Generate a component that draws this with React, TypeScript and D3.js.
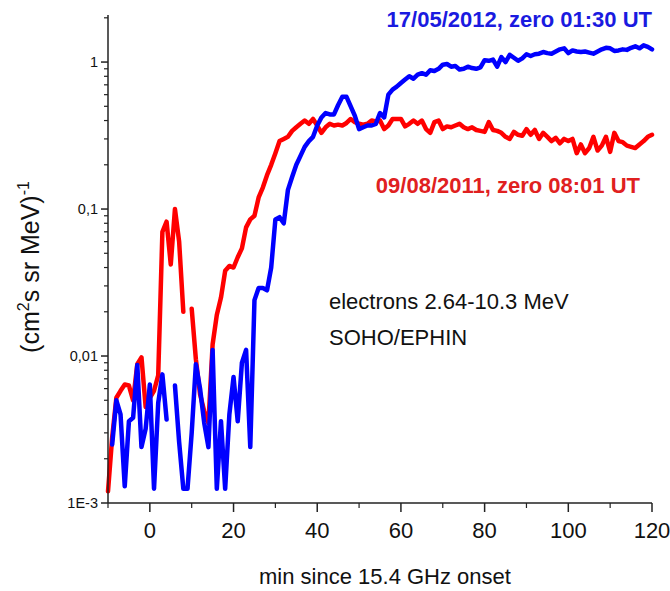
import React from 'react';
import * as d3 from 'd3';

// minutes since 15.4 GHz onset (x categories)
const minutes: number[] = d3.range(-10, 121);

// 09/08/2011 event, electrons 2.64-10.3 MeV, one value per minute from -10 to 120
const red2011: (number | null)[] = [
  0.0012, 0.0028, 0.0052, 0.0058, 0.0064, 0.0063, 0.005, 0.0088, 0.0098, 0.0045,
  0.0052, 0.0058, 0.0074, 0.07, 0.082, 0.042, 0.1, 0.06, 0.02, null,
  0.021, 0.0095, 0.0055, 0.0042, 0.0035, 0.012, 0.019, 0.025, 0.038, 0.041,
  0.04, 0.047, 0.054, 0.075, 0.085, 0.09, 0.12, 0.14, 0.17, 0.2,
  0.24, 0.29, 0.3, 0.31, 0.34, 0.36, 0.38, 0.4, 0.38, 0.41,
  0.37, 0.33, 0.36, 0.38, 0.37, 0.375, 0.37, 0.385, 0.41, 0.39,
  0.38, 0.375, 0.38, 0.4, 0.395, 0.4, 0.35, 0.37, 0.41, 0.41,
  0.41, 0.365, 0.38, 0.4, 0.38, 0.4, 0.35, 0.33, 0.39, 0.4,
  0.35, 0.365, 0.36, 0.37, 0.38, 0.36, 0.35, 0.36, 0.345, 0.34,
  0.335, 0.39, 0.345, 0.34, 0.33, 0.31, 0.3, 0.335, 0.32, 0.315,
  0.35, 0.32, 0.345, 0.3, 0.33, 0.31, 0.29, 0.305, 0.28, 0.3,
  0.29, 0.3, 0.24, 0.275, 0.24, 0.26, 0.31, 0.25, 0.27, 0.31,
  0.245, 0.33, 0.29, 0.285, 0.27, 0.265, 0.26, 0.275, 0.29, 0.31,
  0.32,
];

// 17/05/2012 event
const blue2012: (number | null)[] = [
  null, 0.0025, 0.005, 0.004, 0.0013, 0.0036, 0.0038, 0.0087, 0.0024, 0.0032,
  0.0064, 0.00125, 0.0048, 0.0075, 0.0037, null, 0.0063, 0.0026, 0.00125, 0.00125,
  0.003, 0.0088, 0.006, 0.0035, 0.0024, 0.011, 0.00125, 0.0036, 0.00125, 0.004,
  0.0072, 0.0036, 0.009, 0.011, 0.0024, 0.024, 0.029, 0.029, 0.028, 0.04,
  0.085, 0.088, 0.08, 0.135, 0.165, 0.2, 0.23, 0.265, 0.29, 0.31,
  0.37, 0.42, 0.45, 0.44, 0.44, 0.51, 0.58, 0.58, 0.5, 0.43,
  0.35, 0.36, 0.37, 0.37, 0.38, 0.45, 0.42, 0.6, 0.65, 0.68,
  0.72, 0.76, 0.8, 0.77, 0.82, 0.84, 0.82, 0.88, 0.87, 0.9,
  0.96, 0.97, 0.93, 0.94, 0.89, 0.9, 0.93, 0.91, 0.9, 0.92,
  1.03, 1.02, 1.04, 0.93, 1.08, 1.0, 1.12, 1.07, 1.02, 1.06,
  1.13, 1.1, 1.13, 1.14, 1.17, 1.15, 1.14, 1.18, 1.22, 1.24,
  1.15, 1.2, 1.18, 1.17, 1.18, 1.16, 1.14, 1.18, 1.22, 1.25,
  1.24, 1.19, 1.2, 1.22, 1.21, 1.25, 1.28, 1.24, 1.3, 1.27,
  1.22,
];

const xMajorTicks = [0, 20, 40, 60, 80, 100, 120];
const xMinorTicks = [-10, 10, 30, 50, 70, 90, 110];
const yMajorTicks = [0.001, 0.01, 0.1, 1];
const yMajorLabels = ['1E-3', '0,01', '0,1', '1'];
const yMinorMultipliers = [2, 3, 4, 5, 6, 7, 8, 9];

const legendBlue = '17/05/2012, zero 01:30 UT';
const legendRed = '09/08/2011, zero 08:01 UT';
const noteLines = ['electrons 2.64-10.3 MeV', 'SOHO/EPHIN'];
const xTitle = 'min since 15.4 GHz onset';

const FONT = "'Liberation Sans', Arial, Helvetica, sans-serif";

export default function App() {
  const W = 670;
  const H = 591;
  const x = d3.scaleLinear().domain([-10, 120]).range([108, 652]);
  const y = d3.scaleLog().domain([0.001, 2.09]).range([503, 15]);
  const yTop = y.domain()[1];

  const yMinor: number[] = [];
  yMajorTicks.forEach((base) => {
    yMinorMultipliers.forEach((k) => {
      const v = base * k;
      if (v <= yTop) yMinor.push(v);
    });
  });

  const line = d3
    .line<[number, number | null]>()
    .defined((d) => d[1] != null)
    .x((d) => x(d[0]))
    .y((d) => y(d[1] as number));

  const redPts = minutes.map((m, i) => [m, red2011[i]] as [number, number | null]);
  const bluePts = minutes.map((m, i) => [m, blue2012[i]] as [number, number | null]);

  const axisColor = '#222';
  const x0 = x.range()[0];
  const yB = y.range()[0];

  return (
    <svg
      width={W}
      height={H}
      style={{ position: 'absolute', left: 0, top: 0, background: '#fff' }}
      fontFamily={FONT}
    >
      <rect x={0} y={0} width={W} height={H} fill="#fff" />
      {/* data lines */}
      <path d={line(redPts) || ''} fill="none" stroke="#ff0000" strokeWidth={4.5} strokeLinejoin="round" strokeLinecap="round" />
      <path d={line(bluePts) || ''} fill="none" stroke="#0000ff" strokeWidth={4.5} strokeLinejoin="round" strokeLinecap="round" />

      {/* Y axis */}
      <line x1={x0} x2={x0} y1={y.range()[1]} y2={yB} stroke={axisColor} strokeWidth={1.5} />
      {yMajorTicks.map((v, i) => (
        <g key={'ym' + i}>
          <line x1={x0 - 7} x2={x0} y1={y(v)} y2={y(v)} stroke={axisColor} strokeWidth={1.5} />
          <text x={x0 - 10} y={y(v) + 5} textAnchor="end" fontSize={14.5} fill="#111">
            {yMajorLabels[i]}
          </text>
        </g>
      ))}
      {yMinor.map((v, i) => (
        <line key={'yn' + i} x1={x0 - 4} x2={x0} y1={y(v)} y2={y(v)} stroke={axisColor} strokeWidth={1.2} />
      ))}

      {/* X axis */}
      <line x1={x0} x2={x.range()[1]} y1={yB} y2={yB} stroke={axisColor} strokeWidth={1.5} />
      {xMajorTicks.map((v) => (
        <g key={'xm' + v}>
          <line x1={x(v)} x2={x(v)} y1={yB} y2={yB + 9} stroke={axisColor} strokeWidth={1.5} />
          <text x={x(v)} y={yB + 35} textAnchor="middle" fontSize={22} fill="#111">
            {v}
          </text>
        </g>
      ))}
      {xMinorTicks.map((v) => (
        <line key={'xn' + v} x1={x(v)} x2={x(v)} y1={yB} y2={yB + 5} stroke={axisColor} strokeWidth={1.2} />
      ))}

      {/* axis titles */}
      <text x={(x.range()[0] + x.range()[1]) / 2 + 5} y={584} textAnchor="middle" fontSize={22} fill="#111">
        {xTitle}
      </text>
      <text transform="translate(39,267) rotate(-90)" textAnchor="middle" fontSize={25} fill="#111">
        (cm<tspan fontSize={16} dy={-10}>2</tspan>
        <tspan dy={10}>s sr MeV)</tspan>
        <tspan fontSize={16} dy={-10}>-1</tspan>
      </text>

      {/* legends */}
      <text x={652} y={27} textAnchor="end" fontSize={22} fontWeight="bold" fill="#1a1ae0">
        {legendBlue}
      </text>
      <text x={640} y={193} textAnchor="end" fontSize={22} fontWeight="bold" fill="#e02020">
        {legendRed}
      </text>
      {noteLines.map((t, i) => (
        <text key={t} x={329} y={309 + i * 36} fontSize={22} fill="#111">
          {t}
        </text>
      ))}
    </svg>
  );
}
